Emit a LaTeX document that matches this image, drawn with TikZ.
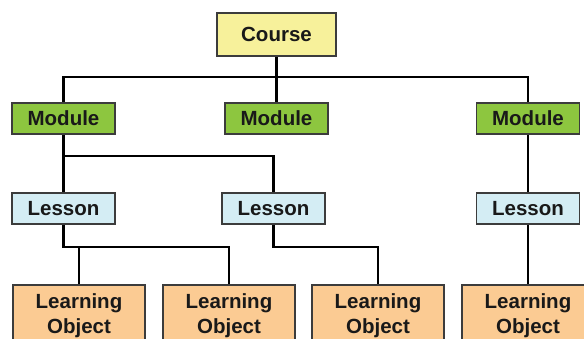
\documentclass[tikz,border=0pt]{standalone}
\usepackage{fontspec}
\setmainfont{Liberation Sans}
\usetikzlibrary{backgrounds}
\definecolor{courseyellow}{HTML}{F7F19B}
\definecolor{modulegreen}{HTML}{8DC63F}
\definecolor{lessonblue}{HTML}{D4EDF4}
\definecolor{loorange}{HTML}{FBCB93}
\definecolor{boxedge}{HTML}{3C3C3C}
\tikzset{
  box/.style={draw=boxedge, line width=1.6pt, rectangle, inner sep=0pt,
    font=\fontsize{20.5}{24.5}\selectfont\bfseries, text=black!90},
  coursebox/.style={box, fill=courseyellow, minimum width=119pt, minimum height=43pt},
  modulebox/.style={box, fill=modulegreen, minimum width=103pt, minimum height=31pt},
  lessonbox/.style={box, fill=lessonblue, minimum width=103pt, minimum height=31pt},
  lobox/.style={box, fill=loorange, minimum width=132pt, minimum height=62pt,
    anchor=north, align=center},
  link/.style={draw=black, line width=2.3pt, line join=miter}
}
\begin{document}
\begin{tikzpicture}[x=1pt, y=-1pt]
  \useasboundingbox (0,0) rectangle (584,338);
  \clip (0,0) rectangle (584,338);

  % hierarchy boxes
  \node[coursebox] (course) at (276.5,34.5) {Course};

  \node[modulebox] (m1) at (63.5,118.5) {Module};
  \node[modulebox] (m2) at (276.5,118.5) {Module};
  \node[modulebox] (m3) at (528,118.5) {Module};

  \node[lessonbox] (l1) at (63.5,208.5) {Lesson};
  \node[lessonbox] (l2) at (273.5,208.5) {Lesson};
  \node[lessonbox] (l3) at (528,208.5) {Lesson};

  \node[lobox] (o1) at (79,284) {Learning\\Object};
  \node[lobox] (o2) at (229,284) {Learning\\Object};
  \node[lobox] (o3) at (378,284) {Learning\\Object};
  \node[lobox] (o4) at (528,284) {Learning\\Object};

  % junction points of the tree
  \coordinate (jc) at (course.south |- 0,77);
  \coordinate (jm) at (m1.south |- 0,156);
  \coordinate (jl1) at (l1.south |- 0,247);
  \coordinate (jl2) at (l2.south |- 0,247);

  \begin{scope}[on background layer]
    \draw[link] (course.south) -- (jc);
    \draw[link] (m1.north) |- (jc) -| (m3.north);
    \draw[link] (jc) -- (m2.north);

    \draw[link] (m1.south) -- (jm) -| (l2.north);
    \draw[link] (jm) -- (l1.north);
    \draw[link] (m3.south) -- (l3.north);

    \draw[link] (l1.south) -- (jl1) -| (o2.north);
    \draw[link] (o1.north) |- (jl1);
    \draw[link] (l2.south) -- (jl2) -| (o3.north);
    \draw[link] (l3.south) -- (o4.north);
  \end{scope}
\end{tikzpicture}
\end{document}
